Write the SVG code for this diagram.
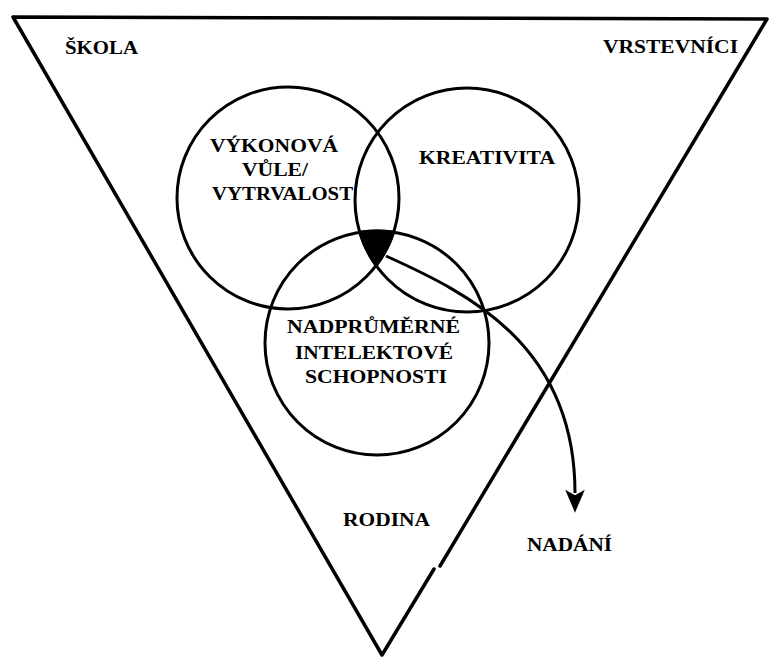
<svg xmlns="http://www.w3.org/2000/svg" width="772" height="657" viewBox="0 0 772 657">
<defs>
<style>
.lbl{font-family:"Liberation Serif","Times New Roman",serif;font-weight:bold;font-size:19px;fill:#000}
.ring{fill:none;stroke:#000;stroke-width:3}
.frame{fill:none;stroke:#000;stroke-width:3.5;stroke-linejoin:round;stroke-linecap:round}
</style>
<marker id="ah" markerWidth="24" markerHeight="20" refX="3" refY="9" orient="auto" markerUnits="userSpaceOnUse" viewBox="0 0 22 18">
<path d="M0,0 L21,9 L0,18 L5,9 Z" fill="#000"/>
</marker>
</defs>
<rect width="772" height="657" fill="#fff"/>
<g id="triangle">
<path class="frame" d="M13,17 L767,19 M13,17 L382,655 L434,569 M440,566 L767,19"/>
</g>
<g id="skola"><text class="lbl" x="65" y="54" textLength="73" lengthAdjust="spacingAndGlyphs">ŠKOLA</text></g>
<g id="vrstevnici"><text class="lbl" x="603" y="53" textLength="135" lengthAdjust="spacingAndGlyphs">VRSTEVNÍCI</text></g>
<g id="rodina"><text class="lbl" x="343" y="526" textLength="87" lengthAdjust="spacingAndGlyphs">RODINA</text></g>
<g id="vykonova">
<circle class="ring" cx="288" cy="198" r="111"/>
<text class="lbl" x="210" y="152" textLength="128" lengthAdjust="spacingAndGlyphs">VÝKONOVÁ</text>
<text class="lbl" x="242" y="176" textLength="66" lengthAdjust="spacingAndGlyphs">VŮLE/</text>
<text class="lbl" x="212" y="200" textLength="141" lengthAdjust="spacingAndGlyphs">VYTRVALOST</text>
</g>
<g id="kreativita">
<circle class="ring" cx="467" cy="200" r="112"/>
<text class="lbl" x="419" y="164" textLength="136" lengthAdjust="spacingAndGlyphs">KREATIVITA</text>
</g>
<g id="intelekt">
<circle class="ring" cx="377" cy="343" r="112"/>
<text class="lbl" x="287" y="333" textLength="173" lengthAdjust="spacingAndGlyphs">NADPRŮMĚRNÉ</text>
<text class="lbl" x="295" y="359" textLength="158" lengthAdjust="spacingAndGlyphs">INTELEKTOVÉ</text>
<text class="lbl" x="305" y="383" textLength="142" lengthAdjust="spacingAndGlyphs">SCHOPNOSTI</text>
</g>
<g id="prunik">
<path d="M359.8,232.3 A112,112 0 0 1 393.6,232.2 A111,111 0 0 1 376.1,265.5 A112,112 0 0 1 359.8,232.3 Z" fill="#000" stroke="#000" stroke-width="3" stroke-linejoin="round"/>
</g>
<g id="nadani"><text class="lbl" x="527" y="551" textLength="85" lengthAdjust="spacingAndGlyphs">NADÁNÍ</text></g>
<g id="connectors">
<path d="M386,256 C468,293 575,345 575,493" fill="none" stroke="#000" stroke-width="3" marker-end="url(#ah)"/>
</g>
</svg>
